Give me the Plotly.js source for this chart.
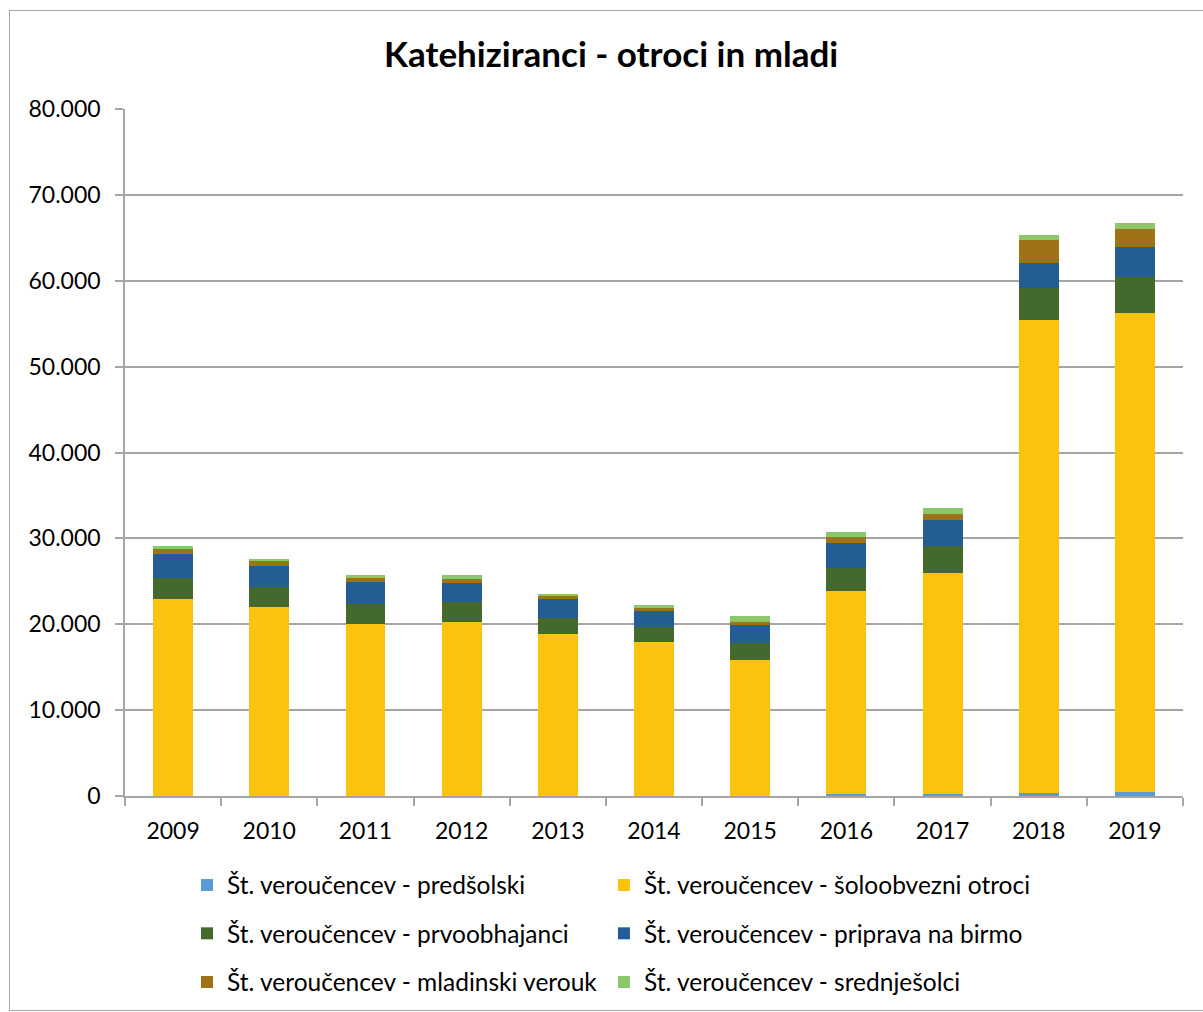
<!DOCTYPE html>
<html>
<head>
<meta charset="utf-8">
<script src="https://cdn.plot.ly/plotly-3.0.1.min.js"></script>
<style>
  html, body { margin:0; padding:0; background:#fff; overflow:hidden; }
  #wrap { position:relative; width:1203px; height:1012px; overflow:hidden; }
  #chart { position:absolute; left:0; top:0; width:1203px; height:1060px; }
  #frame { position:absolute; left:9px; top:10px; width:1200px; height:999px; border:1px solid #A6A6A6; pointer-events:none; }
</style>
</head>
<body>
<div id="wrap"><div id="chart"></div><div id="frame"></div></div>
<script>
const years = ['2009','2010','2011','2012','2013','2014','2015','2016','2017','2018','2019'];
const predsolski      = [0, 0, 0, 0, 0, 0, 0, 290, 230, 300, 500];
const soloobvezni     = [22950, 22000, 20030, 20260, 18860, 17930, 15840, 23580, 25740, 55130, 55740];
const prvoobhajanci   = [2440, 2340, 2330, 2330, 1860, 1750, 1980, 2680, 3140, 3730, 4200];
const birma           = [2790, 2440, 2560, 2180, 2180, 1830, 2060, 2870, 3030, 2870, 3490];
const mladinski       = [580, 590, 500, 500, 390, 420, 420, 700, 700, 2710, 2100];
const srednjesolci    = [350, 220, 320, 470, 230, 310, 660, 620, 700, 580, 700];

const names = [
  'Št. veroučencev - predšolski',
  'Št. veroučencev - šoloobvezni otroci',
  'Št. veroučencev - prvoobhajanci',
  'Št. veroučencev - priprava na birmo',
  'Št. veroučencev - mladinski verouk',
  'Št. veroučencev - srednješolci'
];
const series = [predsolski, soloobvezni, prvoobhajanci, birma, mladinski, srednjesolci];
const colors = ['#5B9BD5', '#FBC20E', '#44692D', '#245D93', '#9E7318', '#8DC76B'];
const legendIds = ['legend', 'legend2', 'legend3', 'legend4', 'legend5', 'legend6'];

const FONT = 'Lato, "Noto Sans", sans-serif';
const H = 1060;

const traces = series.map((vals, i) => ({
  type: 'bar',
  x: years,
  y: vals,
  name: names[i],
  marker: { color: colors[i], line: { width: 0 } },
  legend: legendIds[i],
  hoverinfo: 'x+y+name'
}));

const colX = [0.0586, 0.4527];
const rowY = [-0.1295, -0.2000, -0.2707];

function legendCfg(i) {
  return {
    orientation: 'h',
    xanchor: 'left',
    yanchor: 'middle',
    x: colX[i % 2],
    y: rowY[Math.floor(i / 2)],
    font: { family: FONT, size: 24.5, color: '#000' },
    bgcolor: 'rgba(0,0,0,0)',
    itemclick: false,
    itemdoubleclick: false
  };
}

const layout = {
  width: 1203,
  height: H,
  margin: { l: 125, r: 20, t: 109, b: H - 796 },
  paper_bgcolor: 'rgba(0,0,0,0)',
  plot_bgcolor: '#fff',
  separators: ',.',
  barmode: 'stack',
  bargap: 0.585,
  title: {
    text: '<b>Katehiziranci - otroci in mladi</b>',
    font: { family: FONT, size: 35, color: '#000' },
    x: 0.508, xanchor: 'center',
    y: 1 - 55 / H, yanchor: 'middle'
  },
  xaxis: {
    type: 'category',
    tickson: 'boundaries',
    ticks: 'outside',
    ticklen: 8,
    tickcolor: '#A6A6A6',
    tickwidth: 1.5,
    ticklabelstandoff: 14,
    showline: true,
    linecolor: '#A6A6A6',
    linewidth: 1.5,
    showgrid: false,
    tickfont: { family: FONT, size: 23, color: '#000' },
    fixedrange: true
  },
  yaxis: {
    range: [0, 80000],
    dtick: 10000,
    tickformat: ',d',
    ticks: 'outside',
    ticklen: 8,
    tickcolor: '#A6A6A6',
    tickwidth: 1.5,
    ticklabelstandoff: 10,
    showline: true,
    linecolor: '#A6A6A6',
    linewidth: 1.5,
    showgrid: true,
    gridcolor: '#A6A6A6',
    gridwidth: 1.5,
    zeroline: false,
    tickfont: { family: FONT, size: 23, color: '#000' },
    fixedrange: true
  },
  showlegend: true
};
legendIds.forEach((id, i) => { layout[id] = legendCfg(i); });

Plotly.newPlot('chart', traces, layout, { displayModeBar: false });
</script>
</body>
</html>
